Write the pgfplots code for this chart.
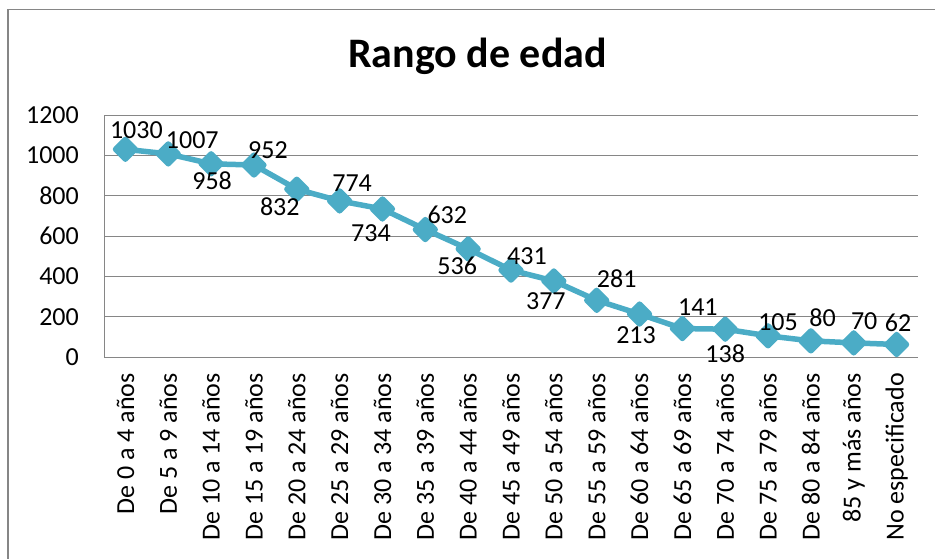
\documentclass[border=0pt]{standalone}
\usepackage{pgfplots}
\pgfplotsset{compat=1.18}
\usepackage{pgfplotstable}
\usepackage{fontspec}
\setmainfont{Carlito}
\definecolor{linec}{HTML}{4BACC6}
\definecolor{gridc}{HTML}{868686}
\pgfplotstableread{
x y dx dy lab
0 1030 11 19 1030
1 1007 24 14 1007
2 958 1 -17 958
3 952 14 15 952
4 832 -17 -17.5 832
5 774 12.5 18 774
6 734 -11.5 -24 734
7 632 22 14.5 632
8 536 -11 -17 536
9 431 16 14 431
10 377 -8 -20.5 377
11 281 20 22 281
12 213 -3.5 -21.5 213
13 141 15.5 21 141
14 138 0 -25 138
15 105 10 13.5 105
16 80 11.6 23 80
17 70 10.5 21.4 70
18 62 1.5 21.5 62
}\datatable
\begin{document}
\begin{tikzpicture}[x=1pt,y=1pt]
\useasboundingbox (0,0) rectangle (935,558);
\draw[gridc, line width=1.2pt] (8,-20) -- (8,548.5) -- (960,548.5);
\begin{axis}[
  at={(104pt,201pt)}, anchor=south west,
  scale only axis, width=814pt, height=242pt,
  xmin=-0.5, xmax=18.5, ymin=0, ymax=1200,
  ytick={0,200,...,1200},
  xtick={0,...,18},
  xticklabels={De 0 a 4 años, De 5 a 9 años, De 10 a 14 años, De 15 a 19 años, De 20 a 24 años, De 25 a 29 años, De 30 a 34 años, De 35 a 39 años, De 40 a 44 años, De 45 a 49 años, De 50 a 54 años, De 55 a 59 años, De 60 a 64 años, De 65 a 69 años, De 70 a 74 años, De 75 a 79 años, De 80 a 84 años, 85 y más años, No especificado},
  axis x line*=bottom, axis y line*=left,
  axis line style={-, draw=gridc, line width=1pt},
  ymajorgrids, grid style={draw=gridc, line width=1pt},
  major tick length=0pt,
  tick label style={font=\fontsize{26}{30}\selectfont, inner sep=0pt},
  /pgf/number format/assume math mode=true,
  /pgf/number format/1000 sep={},
  yticklabel shift=25pt,
  xticklabel style={rotate=90, anchor=east},
  xticklabel shift=16pt,
  clip=false,
]
\addplot[color=linec, line width=5.5pt, line join=round, mark=square*, mark size=7pt,
  mark options={rotate=45, fill=linec, draw=none},
  point meta=explicit symbolic,
  visualization depends on={\thisrow{dx}\as\dx},
  visualization depends on={\thisrow{dy}\as\dy},
  nodes near coords,
  nodes near coords style={anchor=center, inner sep=0pt, xshift=\dx pt, yshift=\dy pt, text=black, font=\fontsize{26}{30}\selectfont},
] table[x=x, y=y, meta=lab] {\datatable};
\end{axis}
\node[font=\bfseries\fontsize{42}{50}\selectfont, anchor=base, inner sep=0pt] at (477.5,490) {Rango de edad};
\end{tikzpicture}
\end{document}
